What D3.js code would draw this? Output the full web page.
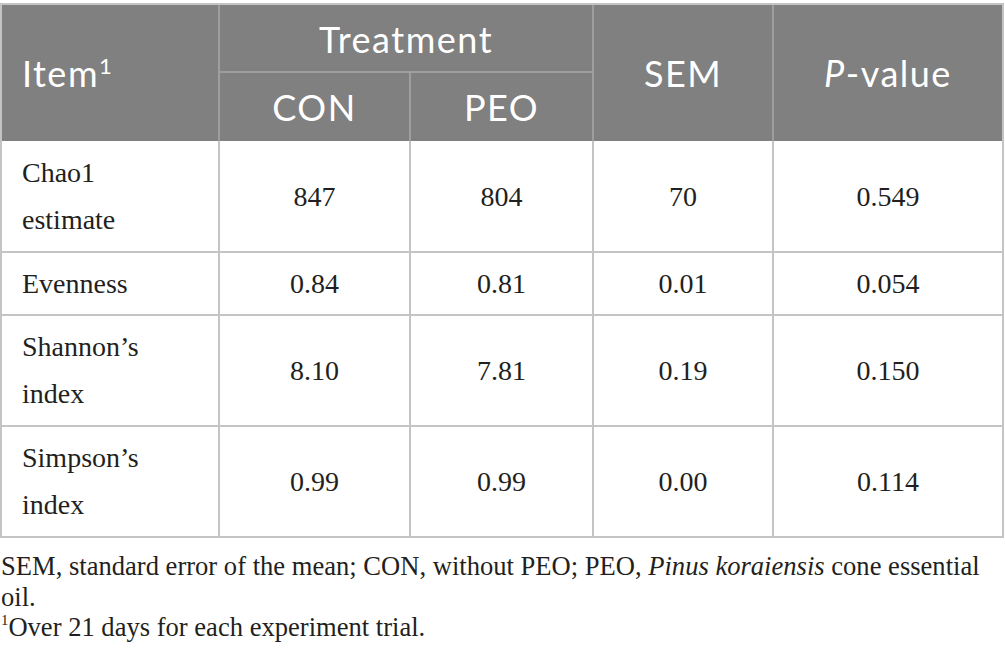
<!DOCTYPE html>
<html><head><meta charset="utf-8">
<script src="https://cdn.jsdelivr.net/npm/d3@7"></script>
<style>
html,body{margin:0;padding:0;background:#fff;}
svg{display:block;}
</style></head>
<body>
<svg id="chart" width="1005" height="664"></svg>
<script>
// ---- data ----
const itemLabels = [["Chao1","estimate"],["Evenness"],["Shannon\u2019s","index"],["Simpson\u2019s","index"]];
const conValues  = [847, 0.84, 8.10, 0.99];
const peoValues  = [804, 0.81, 7.81, 0.99];
const semValues  = [70, 0.01, 0.19, 0.00];
const pValues    = [0.549, 0.054, 0.150, 0.114];
const rowDecimals = [0, 2, 2, 2];
const pDecimals = 3;
const groupHeader = "Treatment";
const subHeaders = ["CON","PEO"];
const footnote1 = [["SEM, standard error of the mean; CON, without PEO; PEO, ", false],["Pinus koraiensis", true],[" cone essential", false]];
const footnote2 = "oil.";
const footnote3 = "Over 21 days for each experiment trial.";

// ---- layout ----
const svg = d3.select("#chart");
const colEdges = [1, 219, 410, 593, 773, 1003];
const topY = 4, headMid = 72, headBottom = 141;
const lineH = 48, rowPad = 15;
const headerFill = "#7f807f";
const gridColor = "#c4c4c4";
const headLine = "#a8a8a8";
const textColor = "#231f20";
const sans = "Lato, 'Open Sans', sans-serif";
const serif = "'Liberation Serif', 'Times New Roman', serif";

// row boundaries from label line counts
const rowH = itemLabels.map(l => rowPad + l.length * lineH);
const rowY = [headBottom];
rowH.forEach((h,i) => rowY.push(rowY[i] + h));
const y = d3.scaleOrdinal().domain(d3.range(itemLabels.length)).range(rowY.slice(0,-1));
const x = d3.scaleOrdinal().domain(d3.range(5)).range(colEdges.slice(0,-1));
const cx = i => (colEdges[i] + colEdges[i+1]) / 2;

// header background
svg.append("rect").attr("x", colEdges[0]).attr("y", topY)
  .attr("width", colEdges[5]-colEdges[0]).attr("height", headBottom-topY)
  .attr("fill", headerFill);

// header lines
const hl = svg.append("g").attr("stroke", headLine).attr("stroke-width", 1.5);
[1,3,4].forEach(i => hl.append("line").attr("x1", colEdges[i]).attr("x2", colEdges[i]).attr("y1", topY).attr("y2", headBottom));
hl.append("line").attr("x1", colEdges[2]).attr("x2", colEdges[2]).attr("y1", headMid).attr("y2", headBottom);
hl.append("line").attr("x1", colEdges[1]).attr("x2", colEdges[3]).attr("y1", headMid).attr("y2", headMid);

// header text
const ht = svg.append("g").attr("fill", "#fff").attr("font-family", sans).attr("font-size", 36)
  .attr("letter-spacing", 1.5);
const itemT = ht.append("text").attr("x", 22).attr("y", 87);
itemT.append("tspan").text("Item");
itemT.append("tspan").attr("font-size", 22).attr("dy", -13).attr("letter-spacing", 0).text("1");
ht.append("text").attr("x", (colEdges[1]+colEdges[3])/2).attr("y", 53).attr("text-anchor","middle").text(groupHeader);
subHeaders.forEach((s,i) => ht.append("text").attr("x", cx(i+1)).attr("y", 121).attr("text-anchor","middle").text(s));
ht.append("text").attr("x", cx(3)).attr("y", 87).attr("text-anchor","middle").text("SEM");
const pv = ht.append("text").attr("x", cx(4)).attr("y", 87).attr("text-anchor","middle");
pv.append("tspan").attr("font-style","italic").text("P");
pv.append("tspan").text("-value");

// body grid
const g = svg.append("g").attr("stroke", gridColor).attr("stroke-width", 2);
rowY.slice(1).forEach(yy => g.append("line").attr("x1", colEdges[0]).attr("x2", colEdges[5]).attr("y1", yy).attr("y2", yy));
colEdges.forEach(xx => g.append("line").attr("x1", xx).attr("x2", xx).attr("y1", headBottom).attr("y2", rowY[rowY.length-1]));
svg.append("rect").attr("x", colEdges[0]).attr("y", topY).attr("width", colEdges[5]-colEdges[0])
  .attr("height", rowY[rowY.length-1]-topY).attr("fill","none").attr("stroke", gridColor).attr("stroke-width", 2);

// body text
const bt = svg.append("g").attr("fill", textColor).attr("font-family", serif).attr("font-size", 28);
const cols = [conValues, peoValues, semValues, pValues];
itemLabels.forEach((lab, r) => {
  const y0 = y(r), mid = y0 + rowH[r]/2;
  lab.forEach((line, k) => {
    bt.append("text").attr("x", x(0) + 21)
      .attr("y", mid + (k - (lab.length-1)/2) * 47 + 9).text(line);
  });
  cols.forEach((vals, c) => {
    const d = c === 3 ? pDecimals : rowDecimals[r];
    bt.append("text").attr("x", cx(c+1)).attr("y", mid + 9)
      .attr("text-anchor","middle").text(d3.format("." + d + "f")(vals[r]));
  });
});

// footnotes
const fn = svg.append("g").attr("fill", textColor).attr("font-family", serif).attr("font-size", 27);
const f1 = fn.append("text").attr("x", 0).attr("y", 575);
footnote1.forEach(([s, it]) => f1.append("tspan").attr("font-style", it ? "italic" : null).text(s));
const sx = 979 / f1.node().getComputedTextLength();
f1.attr("transform", `translate(1,0) scale(${sx},1)`);
fn.append("text").attr("x", 0).attr("y", 606).text(footnote2)
  .attr("transform", `translate(1,0) scale(${sx},1)`);
const f3 = fn.append("text").attr("x", 0).attr("y", 636).attr("transform", `translate(1,0) scale(${sx},1)`);
f3.append("tspan").attr("font-size", 15).attr("dy", -11).text("1");
f3.append("tspan").attr("dy", 11).text(footnote3);
</script>
</body></html>
